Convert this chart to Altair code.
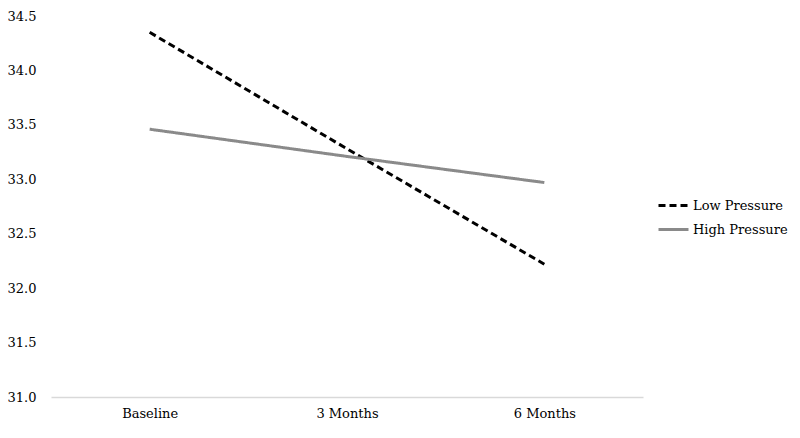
import altair as alt
import pandas as pd

timepoints = ["Baseline", "3 Months", "6 Months"]
series_names = ["Low Pressure", "High Pressure"]
low_values = [34.35, 33.28, 32.22]
high_values = [33.46, 33.21, 32.97]
y_ticks = [31.0, 31.5, 32.0, 32.5, 33.0, 33.5, 34.0, 34.5]

rows = []
for t, v in zip(timepoints, low_values):
    rows.append({"time": t, "group": series_names[0], "value": v})
for t, v in zip(timepoints, high_values):
    rows.append({"time": t, "group": series_names[1], "value": v})
df = pd.DataFrame(rows)

FONT = "DejaVu Serif"
FS = 13

legend_kw = dict(title=None, orient="none", legendX=606, legendY=173,
                 symbolType="stroke", symbolSize=900, symbolStrokeWidth=3,
                 labelFontSize=FS, labelFont=FONT, labelColor="#000000",
                 labelOffset=3, rowPadding=0)

chart = alt.Chart(df).mark_line(strokeWidth=3).encode(
    x=alt.X("time:N", sort=timepoints, title=None,
            scale=alt.Scale(paddingInner=0, paddingOuter=0.5),
            axis=alt.Axis(labelAngle=0, ticks=False, domainColor="#d9d9d9",
                          domainWidth=1.3, labelPadding=10, labelFontSize=FS,
                          labelFont=FONT, labelColor="#000000", grid=False)),
    y=alt.Y("value:Q", title=None,
            scale=alt.Scale(domain=[31.0, 34.5], nice=False, zero=False),
            axis=alt.Axis(values=y_ticks, format=".1f", ticks=False, domain=False,
                          grid=False, labelPadding=15, labelFontSize=FS,
                          labelFont=FONT, labelColor="#000000")),
    color=alt.Color("group:N", sort=series_names,
                    scale=alt.Scale(domain=series_names, range=["#000000", "#8a8a8a"]),
                    legend=alt.Legend(**legend_kw)),
    strokeDash=alt.StrokeDash("group:N", sort=series_names,
                              scale=alt.Scale(domain=series_names, range=[[7, 4], [1, 0]]),
                              legend=alt.Legend(**legend_kw)),
).properties(
    width=592, height=381,
    background="white",
    autosize=alt.AutoSizeParams(type="none"),
    padding={"left": 43, "top": 8, "right": 149, "bottom": 33},
).configure_view(stroke=None, strokeWidth=0)

chart.save("out.html", embed_options={"renderer": "svg", "actions": False})
